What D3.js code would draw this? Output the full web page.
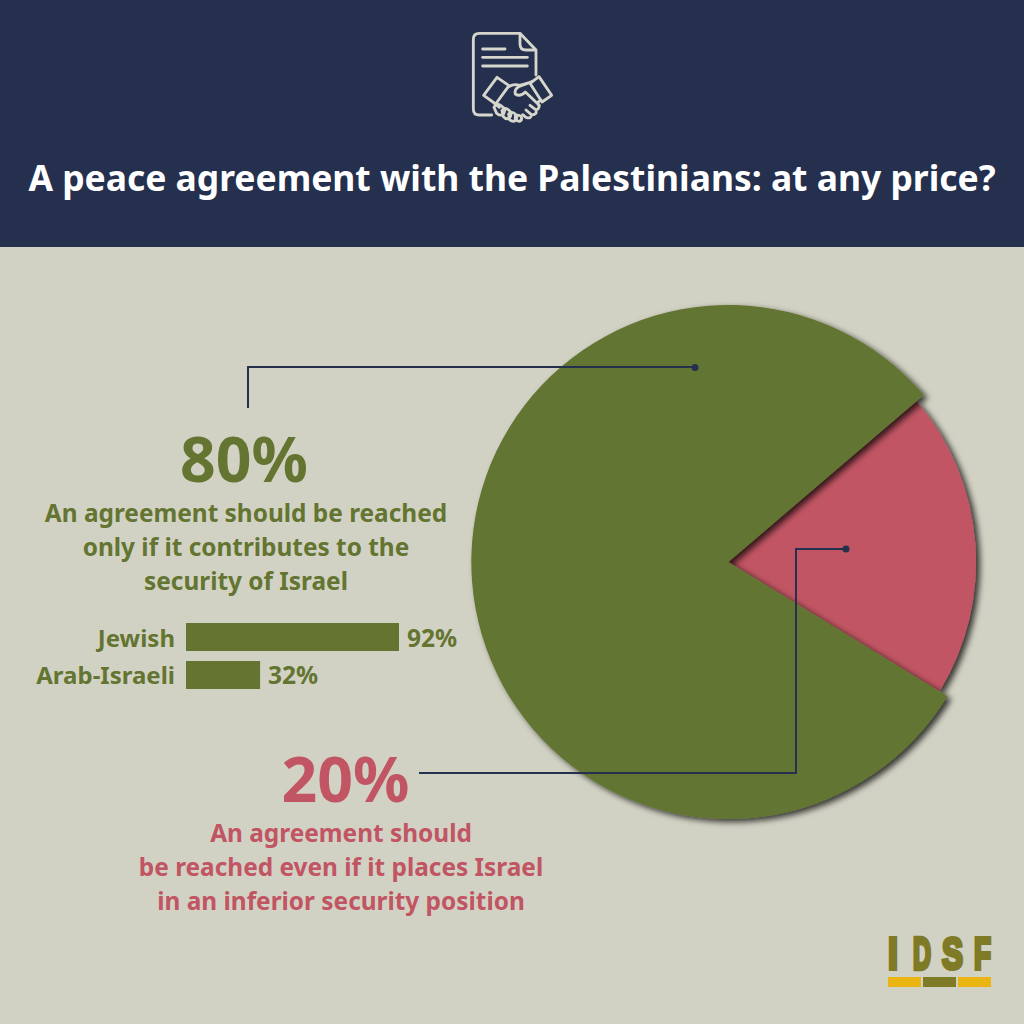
<!DOCTYPE html>
<html>
<head>
<meta charset="utf-8">
<script src="https://cdn.jsdelivr.net/npm/d3@7"></script>
<style>
	html, body { margin: 0; padding: 0; background: #d2d2c4; }
	svg { display: block; }
	text { font-family: "Noto Sans", sans-serif; font-weight: 700; }
</style>
</head>
<body>
<svg id="chart" width="1024" height="1024"></svg>
<script>
var title = 'A peace agreement with the Palestinians: at any price?';

// pie
var pieNames = ['only if secure', 'even if inferior'];
var pieValues = [80, 20];
var pieLabels = ['80%', '20%'];
var greenLines = ['An agreement should be reached', 'only if it contributes to the', 'security of Israel'];
var redLines = ['An agreement should', 'be reached even if it places Israel', 'in an inferior security position'];

// small bars
var barNames = ['Jewish', 'Arab-Israeli'];
var barValues = [92, 32];

var logoLetters = ['I', 'D', 'S', 'F'];

var NAVY = '#24304e', BG = '#d2d2c4', GREEN = '#637531', RED = '#c15563',
	OLIVE = '#7f7a26', YELLOW = '#eab512', ICON = '#d6d6cc';

var svg = d3.select('#chart');

var shadow = svg.append('defs').append('filter')
	.attr('id', 'shadow')
	.attr('x', '-10%').attr('y', '-10%')
	.attr('width', '120%').attr('height', '120%');
shadow.append('feDropShadow')
	.attr('dx', 4).attr('dy', 3)
	.attr('stdDeviation', 3)
	.attr('flood-color', '#000')
	.attr('flood-opacity', 0.75);

svg.append('rect').attr('width', 1024).attr('height', 1024).attr('fill', BG);
svg.append('rect').attr('width', 1024).attr('height', 247).attr('fill', NAVY);

/* Header icon, coordinates from a 3x crop */
var icon = svg.append('g')
	.attr('transform', 'translate(440,20) scale(0.3333)')
	.attr('fill', 'none')
	.attr('stroke', ICON)
	.attr('stroke-width', 8.5)
	.attr('stroke-linecap', 'round')
	.attr('stroke-linejoin', 'round');

[
	'M155,285 H118 Q100,285 100,267 V58 Q100,40 118,40 H240 L288,90 V165',
	'M240,42 V72 Q240,90 258,90 H286',
	'M128,87 H195', 'M128,112 H262', 'M128,138 H262',
	// cuffs
	'M171,172 L207,197 L167,252 L131,226 Z',
	'M297,170 L335,226 L306,246 L270,190 Z',
	// hands
	'M207,200 Q222,190 238,196 L262,190 L278,184',
	'M262,190 L236,200 Q222,208 226,222 Q240,232 256,216 L298,256',
	'M303,240 L292,248 Q304,264 288,270 L270,256 M288,270 Q292,286 274,284 L258,270 M274,284 Q274,298 258,292 L248,284',
	'M165,252 L178,262',
	'M162,262 Q170,248 182,256 L192,264 Q198,274 188,284 Q178,288 170,280 Z',
	'M186,272 Q194,260 206,270 L212,276 Q216,288 206,296 Q196,298 190,290 Z',
	'M206,282 Q214,272 226,282 L230,288 Q232,298 222,304 Q212,304 208,298 Z',
	'M226,288 Q234,282 244,290 Q248,300 238,304 Q230,304 226,298 Z'
].forEach(function (d) {
	icon.append('path').attr('d', d);
});

svg.append('text')
	.attr('x', 512).attr('y', 191)
	.attr('text-anchor', 'middle')
	.attr('font-size', 35.45)
	.attr('fill', '#fff')
	.text(title);

/* Pie. The red slice is drawn first, with a shorter radius, green casts its shadow over it */
var pieG = svg.append('g').attr('transform', 'translate(728.3,562)');
var startDeg = 121.5;
var pie = d3.pie().sort(null)
	.startAngle(startDeg * Math.PI / 180)
	.endAngle((startDeg + 360) * Math.PI / 180);
var slices = pie(pieValues);

var radius = d3.scaleOrdinal().domain(pieNames).range([257, 247.7]);
var sliceColor = d3.scaleOrdinal().domain(pieNames).range([GREEN, RED]);

pieG.selectAll('path')
	.data([slices[1], slices[0]])
	.enter().append('path')
	.attr('d', function (d, i) {
		var name = pieNames[d.index];
		return d3.arc().innerRadius(0).outerRadius(radius(name))(d);
	})
	.attr('fill', function (d) { return sliceColor(pieNames[d.index]); })
	.attr('filter', 'url(#shadow)');

/* Leader lines */
var leaders = svg.append('g');
leaders.append('path')
	.attr('d', 'M248,408 V367 H695')
	.attr('fill', 'none').attr('stroke', NAVY).attr('stroke-width', 2);
leaders.append('circle').attr('cx', 695).attr('cy', 367.5).attr('r', 3.5).attr('fill', NAVY);
leaders.append('path')
	.attr('d', 'M419,773 H796 V549 H846')
	.attr('fill', 'none').attr('stroke', NAVY).attr('stroke-width', 2);
leaders.append('circle').attr('cx', 846).attr('cy', 549).attr('r', 3.5).attr('fill', NAVY);

/* Big labels */
function textBlock(bigX, bigY, bigLabel, cx, lines, firstY, color) {
	svg.append('text')
		.attr('x', bigX).attr('y', bigY)
		.attr('text-anchor', 'middle')
		.attr('font-size', 62.5)
		.attr('fill', color)
		.text(bigLabel);
	svg.selectAll(null)
		.data(lines)
		.enter().append('text')
		.attr('x', cx)
		.attr('y', function (d, i) { return firstY + i * 34; })
		.attr('text-anchor', 'middle')
		.attr('font-size', 24.4)
		.attr('fill', color)
		.text(function (d) { return d; });
}
textBlock(244, 482, pieLabels[0], 246, greenLines, 522, GREEN);
textBlock(345.5, 802, pieLabels[1], 341, redLines, 842, RED);

/* Small bars */
var x = d3.scaleLinear().domain([0, 92]).range([186, 399]);
var y = d3.scaleBand().domain(barNames).range([623, 689]).paddingInner(0.263);

svg.selectAll('.bar')
	.data(barValues)
	.enter().append('rect')
	.attr('class', 'bar')
	.attr('x', x(0))
	.attr('y', function (d, i) { return y(barNames[i]); })
	.attr('width', function (d) { return x(d) - x(0); })
	.attr('height', y.bandwidth())
	.attr('fill', GREEN);

svg.selectAll('.bar-name')
	.data(barNames)
	.enter().append('text')
	.attr('class', 'bar-name')
	.attr('x', 175)
	.attr('y', function (d) { return y(d) + 23.5; })
	.attr('text-anchor', 'end')
	.attr('font-size', 24)
	.attr('fill', GREEN)
	.text(function (d) { return d; });

svg.selectAll('.bar-value')
	.data(barValues)
	.enter().append('text')
	.attr('class', 'bar-value')
	.attr('x', function (d) { return x(d) + 8; })
	.attr('y', function (d, i) { return y(barNames[i]) + 23.5; })
	.attr('font-size', 24.5)
	.attr('fill', GREEN)
	.text(function (d) { return d + '%'; });

/* Logo */
var logoX = [888, 913, 942, 974];
var logoW = [10, 18, 21, 17];
logoLetters.forEach(function (l, i) {
	var t = svg.append('text')
		.attr('y', 969)
		.attr('font-size', 45)
		.attr('fill', OLIVE)
		.attr('stroke', OLIVE)
		.attr('stroke-width', 3.5)
		.style('vector-effect', 'non-scaling-stroke')
		.style('font-family', '"Liberation Sans", sans-serif')
		.text(l);
	var k = logoW[i] / t.node().getComputedTextLength();
	t.attr('transform', 'translate(' + logoX[i] + ',0) scale(' + k + ',1)');
});
svg.append('rect').attr('x', 888).attr('y', 977).attr('width', 33).attr('height', 10).attr('fill', YELLOW);
svg.append('rect').attr('x', 923).attr('y', 977).attr('width', 33).attr('height', 10).attr('fill', OLIVE);
svg.append('rect').attr('x', 958).attr('y', 977).attr('width', 33).attr('height', 10).attr('fill', YELLOW);
</script>
</body>
</html>
